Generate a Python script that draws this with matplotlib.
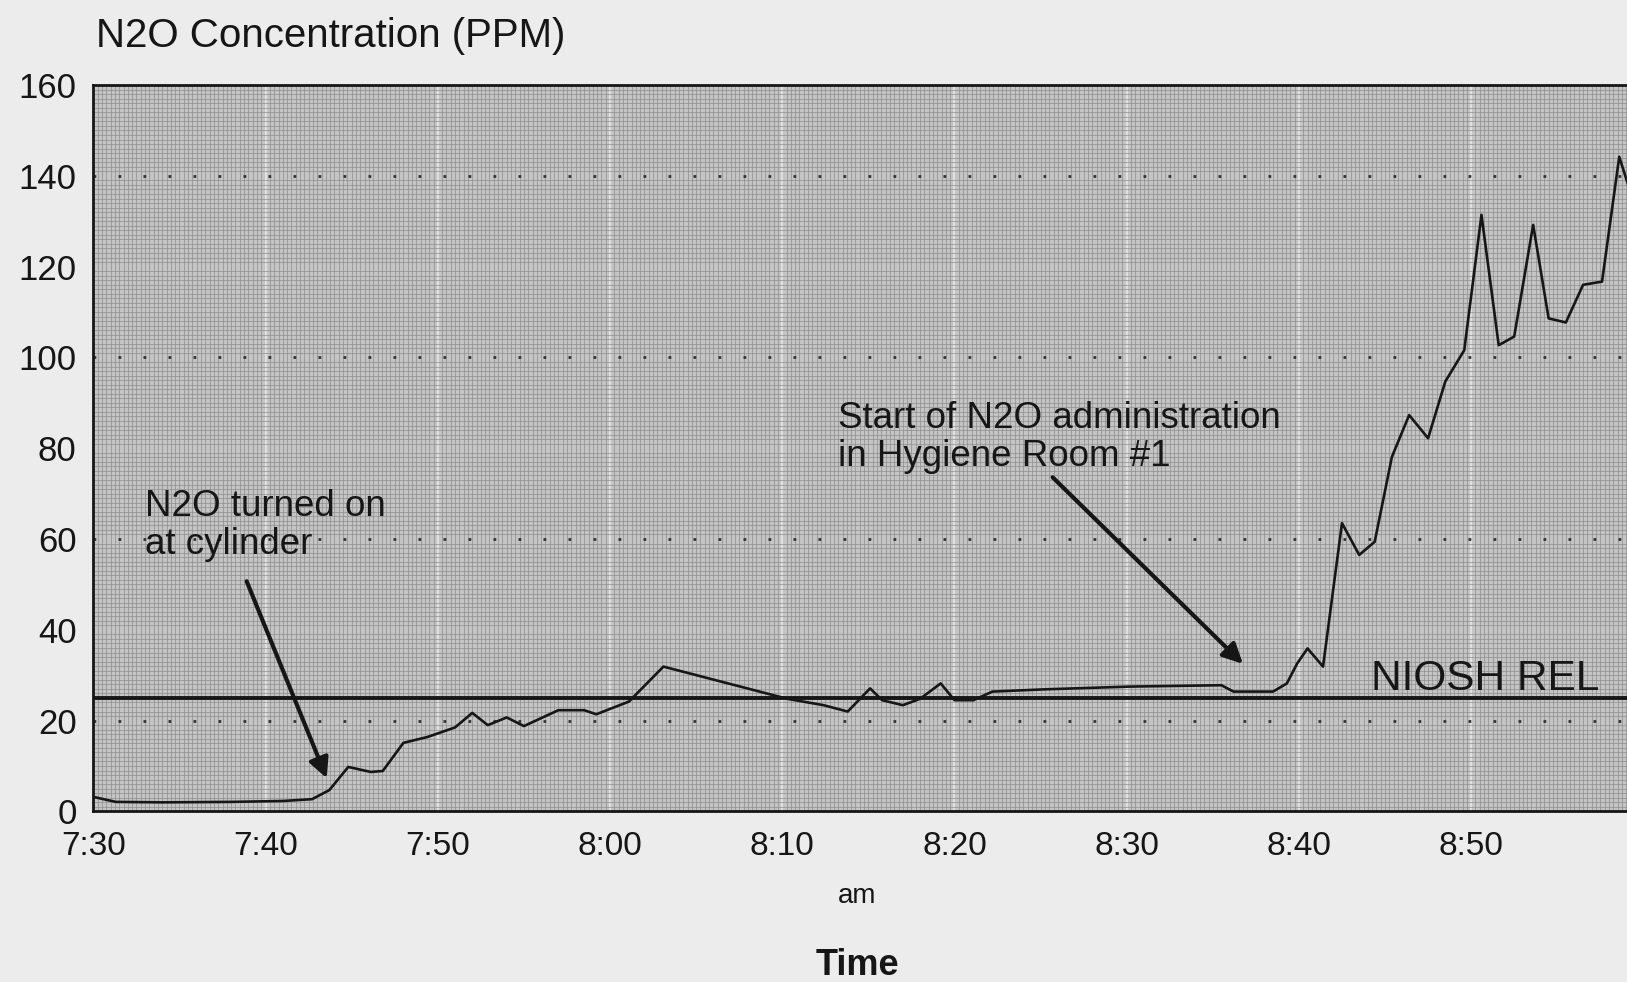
import numpy as np
import matplotlib
matplotlib.use("Agg")
import matplotlib.pyplot as plt
from matplotlib.ticker import MultipleLocator

# minutes after 7:30 am and N2O reading (ppm)
minutos = [0, 1.3, 4, 8, 11, 12.7, 13.7, 14.8, 16.1, 16.8, 18.0, 19.4, 21.0, 22.0,
           22.9, 24.0, 25.0, 27.0, 28.5, 29.2, 31.1, 33.1, 40.3, 42.4, 43.8, 45.1,
           45.8, 47.0, 48.0, 49.2, 50.0, 51.1, 52.2, 55.3, 60.2, 65.5, 66.2, 68.5,
           69.3, 69.9, 70.5, 71.4, 72.5, 73.5, 74.4, 75.4, 76.4, 77.5, 78.5, 79.6,
           80.6, 81.6, 82.5, 83.6, 84.5, 85.5, 86.5, 87.6, 88.6, 89.2]
ppm = [3.2, 2.1, 2.0, 2.1, 2.3, 2.7, 4.7, 9.8, 8.7, 8.9, 15.1, 16.4, 18.5, 21.7,
       19.0, 20.7, 18.8, 22.3, 22.3, 21.4, 24.2, 31.9, 24.8, 23.4, 22.0, 27.1,
       24.5, 23.4, 24.8, 28.2, 24.5, 24.5, 26.4, 26.9, 27.5, 27.8, 26.4, 26.4,
       28.2, 32.6, 35.9, 31.9, 63.5, 56.5, 59.4, 78.1, 87.3, 82.2, 94.7, 101.6,
       131.4, 102.7, 104.6, 129.2, 108.6, 107.7, 116.0, 116.7, 144.2, 137.0]

rel_niosh = 25
ticks_x = [0, 10, 20, 30, 40, 50, 60, 70, 80]
etiquetas_x = ['7:30', '7:40', '7:50', '8:00', '8:10', '8:20', '8:30', '8:40', '8:50']
ticks_y = [0, 20, 40, 60, 80, 100, 120, 140, 160]
lineas_punteadas = [20, 60, 100, 140]

tinta = '#161616'
plt.rcParams['font.family'] = ['Liberation Sans', 'DejaVu Sans']

fig = plt.figure(figsize=(16.27, 9.82), dpi=100, facecolor='#ececec')
ax = fig.add_axes([0.0574, 0.1737, 0.9426, 0.7397])
ax.set_facecolor('#c4c4c4')

# papel milimetrado de fondo
ax.xaxis.set_minor_locator(MultipleLocator(0.25))
ax.yaxis.set_minor_locator(MultipleLocator(1))
ax.grid(which='minor', color='#8c8c8c', lw=0.6, alpha=0.8)
ax.grid(which='major', axis='x', color='#f4f4f4', lw=1.2, alpha=0.7)
ax.set_axisbelow(True)

for y in lineas_punteadas:
    ax.axhline(y, color='#333333', lw=2, linestyle=(0, (1, 8)), zorder=2)

ax.axhline(rel_niosh, color=tinta, lw=2.8, zorder=3)
ax.plot(minutos, ppm, color=tinta, lw=1.9, zorder=4)

ax.set_xlim(0, 89.05)
ax.set_ylim(0, 160)
ax.set_xticks(ticks_x)
ax.set_xticklabels(etiquetas_x)
ax.set_yticks(ticks_y)
ax.tick_params(which='both', length=0)
ax.tick_params(axis='x', labelsize=24, pad=14, colors=tinta)
ax.tick_params(axis='y', labelsize=25, pad=12, colors=tinta)

for lado in ['left', 'bottom', 'top']:
    ax.spines[lado].set_linewidth(2)
    ax.spines[lado].set_color(tinta)
ax.spines['right'].set_visible(False)

# anotaciones
flecha = dict(arrowstyle='-|>', lw=3, color=tinta, mutation_scale=30, shrinkA=0, shrinkB=0)
ax.annotate('', xy=(13.55, 7.3), xytext=(8.9, 50.7), arrowprops=flecha, zorder=5)
ax.annotate('', xy=(66.75, 32.5), xytext=(55.7, 73.6), arrowprops=flecha, zorder=5)
ax.text(3.0, 71, 'N2O turned on\nat cylinder', fontsize=26.5, color=tinta,
        ha='left', va='top', linespacing=1.12)
ax.text(43.25, 90.5, 'Start of N2O administration\nin Hygiene Room #1', fontsize=26.5,
        color=tinta, ha='left', va='top', linespacing=1.12)
ax.text(74.2, 26.8, 'NIOSH REL', fontsize=30.5, color=tinta, ha='left', va='baseline')

fig.text(0.059, 0.963, 'N2O Concentration (PPM)', fontsize=29, color=tinta, ha='left', va='center')
fig.text(0.527, 0.0876, 'am', fontsize=20, color=tinta, ha='center', va='center')
fig.text(0.527, 0.017, 'Time', fontsize=26, fontweight='bold', color=tinta, ha='center', va='center')

fig.savefig('out.png', dpi=100, facecolor=fig.get_facecolor())
